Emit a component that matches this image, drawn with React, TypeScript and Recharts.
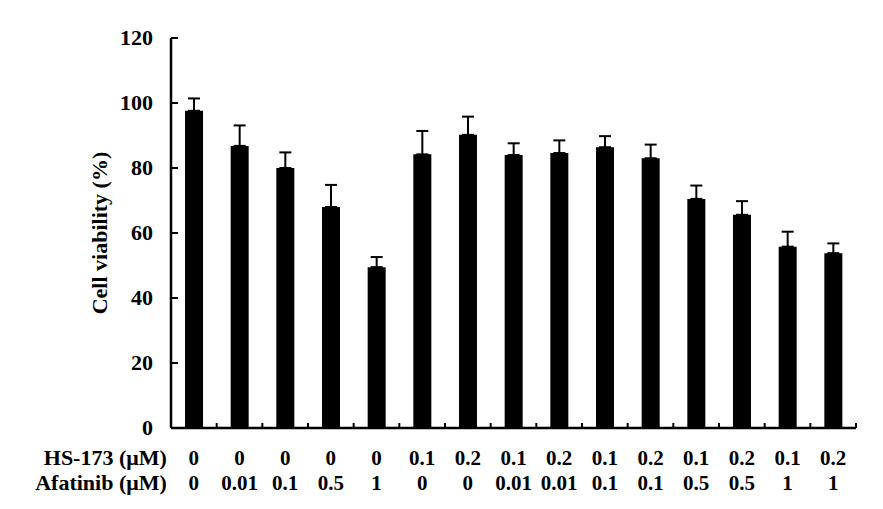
import { BarChart, Bar, XAxis, YAxis, ErrorBar } from "recharts";

const hs173 = ["0", "0", "0", "0", "0", "0.1", "0.2", "0.1", "0.2", "0.1", "0.2", "0.1", "0.2", "0.1", "0.2"];
const afatinib = ["0", "0.01", "0.1", "0.5", "1", "0", "0", "0.01", "0.01", "0.1", "0.1", "0.5", "0.5", "1", "1"];
const viability = [97.6, 86.8, 80, 68, 49.5, 84.2, 90.2, 84, 84.6, 86.4, 83, 70.5, 65.6, 55.8, 53.8];
const sd = [3.8, 6.3, 4.8, 6.8, 3.1, 7.2, 5.6, 3.6, 3.9, 3.4, 4.2, 4.1, 4.2, 4.6, 3];
const yTicks = [0, 20, 40, 60, 80, 100, 120];

const data = viability.map((v, i) => ({
  key: i,
  hs: hs173[i],
  afa: afatinib[i],
  value: v,
  err: [0, sd[i]],
}));

const txt = {
  fontFamily: '"Liberation Serif", "Times New Roman", Times, serif',
  fontWeight: 700,
  fill: "#000",
};
const W = 883;
const H = 509;
const M = { top: 38, right: 27, bottom: 0, left: 0 };
const YW = 171;
const band = (W - M.left - M.right - YW) / data.length;

const XTick = (props: any) => {
  const { x, y, payload } = props;
  const i = payload.index;
  return (
    <g>
      <line x1={x + band / 2} x2={x + band / 2} y1={y} y2={y - 5} stroke="#000" strokeWidth={2} />
      <text x={x} y={y + 37} textAnchor="middle" style={{ ...txt, fontSize: 21 }}>
        {hs173[i]}
      </text>
      <text x={x} y={y + 62} textAnchor="middle" style={{ ...txt, fontSize: 21 }}>
        {afatinib[i]}
      </text>
      {i === 0 && (
        <>
          <text x={x - 27} y={y + 37} textAnchor="end" style={{ ...txt, fontSize: 22 }}>
            HS-173 (μM)
          </text>
          <text x={x - 27} y={y + 62} textAnchor="end" style={{ ...txt, fontSize: 22 }}>
            Afatinib (μM)
          </text>
        </>
      )}
    </g>
  );
};

const YTick = (props: any) => {
  const { x, y, payload } = props;
  return (
    <g>
      {payload.value !== 0 && <line x1={x} x2={x + 7} y1={y} y2={y} stroke="#000" strokeWidth={2} />}
      <text x={x - 18} y={y + 7} textAnchor="end" style={{ ...txt, fontSize: 22 }}>
        {payload.value}
      </text>
    </g>
  );
};

export default function App() {
  return (
    <div style={{ position: "absolute", left: 0, top: 0, background: "#fff" }}>
      <BarChart width={W} height={H} data={data} margin={M}>
        <XAxis
          dataKey="key"
          height={H - 428}
          tickLine={false}
          tickSize={0}
          tickMargin={0}
          axisLine={{ stroke: "#000", strokeWidth: 2.5 }}
          tick={<XTick />}
          interval={0}
        />
        <YAxis
          width={YW}
          domain={[0, 120]}
          ticks={yTicks}
          tickLine={false}
          tickSize={0}
          tickMargin={0}
          axisLine={{ stroke: "#000", strokeWidth: 2.5 }}
          tick={<YTick />}
          label={{
            value: "Cell viability (%)",
            angle: -90,
            position: "insideLeft",
            dx: 94,
            style: { ...txt, fontSize: 22, textAnchor: "middle" },
          }}
        />
        <Bar dataKey="value" fill="#000" barSize={18} isAnimationActive={false}>
          <ErrorBar dataKey="err" direction="y" width={6} stroke="#000" strokeWidth={2} />
        </Bar>
      </BarChart>
    </div>
  );
}
